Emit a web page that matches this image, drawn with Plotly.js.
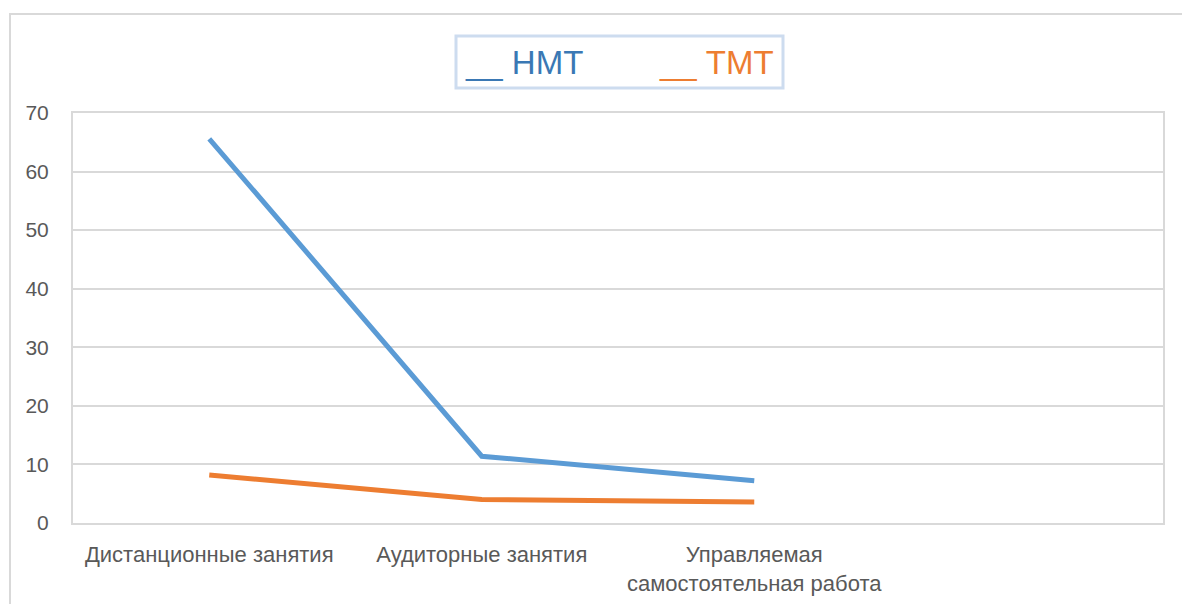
<!DOCTYPE html>
<html>
<head>
<meta charset="utf-8">
<script src="https://cdn.plot.ly/plotly-3.0.1.min.js"></script>
<style>
  html, body { margin: 0; padding: 0; background: #ffffff; }
  #wrap { position: relative; width: 1182px; height: 604px; overflow: hidden; }
  #frame { position: absolute; left: 9px; top: 13px; width: 1200px; height: 620px;
           border-left: 2px solid #d9d9d9; border-top: 2px solid #d9d9d9; pointer-events: none; }
  #chart { position: absolute; left: 0; top: 0; width: 1182px; height: 604px; }
</style>
</head>
<body>
<div id="wrap">
  <div id="chart"></div>
  <div id="frame"></div>
</div>
<script>
// ---- data ----
const categories = ["Дистанционные занятия", "Аудиторные занятия", "Управляемая<br>самостоятельная работа", ""];
const seriesNames = ["НМТ", "ТМТ"];
const nmtValues = [65.6, 11.4, 7.2];
const tmtValues = [8.2, 4.0, 3.6];
const yTicks = [0, 10, 20, 30, 40, 50, 60, 70];

const W = 1182, H = 604;
const M = { l: 73, r: 19, t: 113, b: 81 };
const pw = W - M.l - M.r, ph = H - M.t - M.b;
const px = v => (v - M.l) / pw;
const py = v => (H - M.b - v) / ph;

const xIdx = categories.map((c, i) => i);

const traces = [
  { x: xIdx.slice(0, nmtValues.length), y: nmtValues, name: seriesNames[0], type: "scatter", mode: "lines",
    line: { color: "#5b9bd5", width: 5 } },
  { x: xIdx.slice(0, tmtValues.length), y: tmtValues, name: seriesNames[1], type: "scatter", mode: "lines",
    line: { color: "#ed7d31", width: 5 } }
];

const xFont = { family: "Liberation Sans, Arial, sans-serif", size: 22, color: "#595959" };
const yFont = { family: "Liberation Sans, Arial, sans-serif", size: 21, color: "#595959" };

const layout = {
  width: W, height: H,
  margin: M,
  paper_bgcolor: "#ffffff", plot_bgcolor: "#ffffff",
  showlegend: false,
  xaxis: {
    range: [-0.5, categories.length - 0.5],
    tickvals: xIdx, ticktext: categories,
    showgrid: false, zeroline: false,
    showline: true, mirror: true, linecolor: "#d9d9d9", linewidth: 2,
    ticks: "", ticklabelstandoff: 11,
    tickfont: xFont, fixedrange: true
  },
  yaxis: {
    range: [0, 70], tickvals: yTicks,
    showgrid: true, gridcolor: "#d9d9d9", gridwidth: 2,
    zeroline: false,
    showline: true, mirror: true, linecolor: "#d9d9d9", linewidth: 2,
    ticks: "", ticklabelstandoff: 18,
    tickfont: yFont, fixedrange: true
  },
  shapes: [
    { type: "rect", xref: "paper", yref: "paper",
      x0: px(456), x1: px(783), y0: py(88), y1: py(36),
      line: { color: "#cddcef", width: 3 }, fillcolor: "rgba(0,0,0,0)" }
  ],
  annotations: [
    { xref: "paper", yref: "paper", x: px(463), y: py(63), xanchor: "left", yanchor: "middle",
      text: "__ " + seriesNames[0], showarrow: false,
      font: { family: "Liberation Sans, Arial, sans-serif", size: 33, color: "#3a78b4" } },
    { xref: "paper", yref: "paper", x: px(657), y: py(63), xanchor: "left", yanchor: "middle",
      text: "__ " + seriesNames[1], showarrow: false,
      font: { family: "Liberation Sans, Arial, sans-serif", size: 33, color: "#ed7d31" } }
  ]
};

Plotly.newPlot("chart", traces, layout, { displayModeBar: false, staticPlot: true });
</script>
</body>
</html>
